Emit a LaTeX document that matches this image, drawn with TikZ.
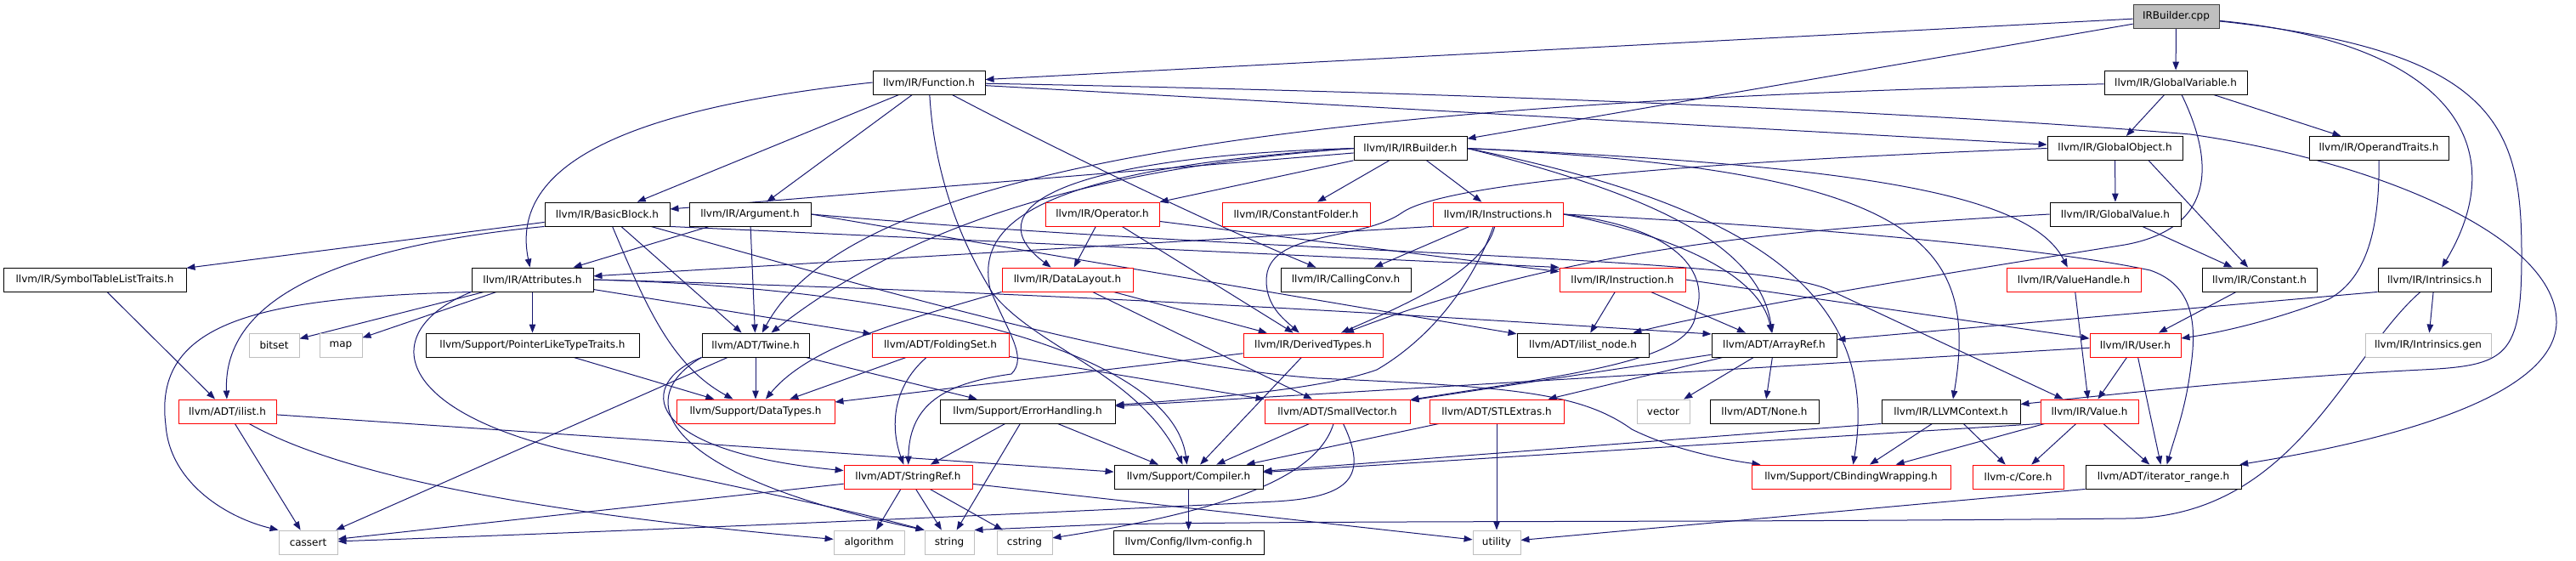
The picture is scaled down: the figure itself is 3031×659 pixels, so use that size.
\documentclass[tikz,border=0pt]{standalone}
\usepackage{fontspec}
\setmainfont{DejaVu Sans}
\usepackage{tikz}
\usetikzlibrary{arrows.meta,backgrounds}
\definecolor{edgeblue}{RGB}{25,25,112}
\definecolor{sysgray}{RGB}{191,191,191}
\definecolor{rootframe}{RGB}{64,64,64}
\definecolor{truncred}{RGB}{255,0,0}

\begin{document}
\begin{tikzpicture}[x=1pt,y=-1pt]
  \tikzstyle{hdr}=[rectangle,draw=black,line width=0.9pt,fill=white,minimum height=28pt,inner xsep=2pt,inner ysep=0pt,font=\fontsize{12}{14}\selectfont]
  \tikzstyle{trunc}=[hdr,draw=truncred]
  \tikzstyle{sys}=[hdr,draw=sysgray]
  \tikzstyle{root}=[hdr,draw=rootframe,fill=sysgray]
  \tikzstyle{dep}=[draw=edgeblue,line width=1pt,-{Triangle[length=10pt,width=7.5pt]}]
  \useasboundingbox (0,0) rectangle (3031,659);
  % row 0
  \node[root,minimum width=101pt] (cpp) at (2560.5,19.5) {IRBuilder.cpp};
  % row 1
  \node[hdr,minimum width=132pt] (func) at (1093,97) {llvm/IR/Function.h};
  \node[hdr,minimum width=168pt] (gvar) at (2560,97) {llvm/IR/GlobalVariable.h};
  % row 2
  \node[hdr,minimum width=133pt] (irb) at (1659.5,174.5) {llvm/IR/IRBuilder.h};
  \node[hdr,minimum width=159pt] (gobj) at (2488.5,174.5) {llvm/IR/GlobalObject.h};
  \node[hdr,minimum width=164pt] (optr) at (2799,174.5) {llvm/IR/OperandTraits.h};
  % row 3
  \node[hdr,minimum width=147pt] (bb) at (714.5,252) {llvm/IR/BasicBlock.h};
  \node[hdr,minimum width=143pt] (arg) at (882.5,252) {llvm/IR/Argument.h};
  \node[trunc,minimum width=134pt] (oper) at (1297,252) {llvm/IR/Operator.h};
  \node[trunc,minimum width=174pt] (cfold) at (1525,252) {llvm/IR/ConstantFolder.h};
  \node[trunc,minimum width=153pt] (insts) at (1762.5,252) {llvm/IR/Instructions.h};
  \node[hdr,minimum width=154pt] (gval) at (2489,252) {llvm/IR/GlobalValue.h};
  % row 4
  \node[hdr,minimum width=215pt] (stlt) at (111.5,329) {llvm/IR/SymbolTableListTraits.h};
  \node[hdr,minimum width=143pt] (attr) at (626.5,329) {llvm/IR/Attributes.h};
  \node[trunc,minimum width=154pt] (dl) at (1256,329) {llvm/IR/DataLayout.h};
  \node[hdr,minimum width=153pt] (cc) at (1583.5,329) {llvm/IR/CallingConv.h};
  \node[trunc,minimum width=148pt] (inst) at (1909,329) {llvm/IR/Instruction.h};
  \node[trunc,minimum width=158pt] (vh) at (2440,329) {llvm/IR/ValueHandle.h};
  \node[hdr,minimum width=135pt] (const) at (2658.5,329) {llvm/IR/Constant.h};
  \node[hdr,minimum width=133pt] (intr) at (2864.5,329) {llvm/IR/Intrinsics.h};
  % row 5
  \node[sys,minimum width=59pt] (bitset) at (322.5,406) {bitset};
  \node[sys,minimum width=50pt] (map) at (401,406) {map};
  \node[hdr,minimum width=251pt] (pltt) at (626.5,406) {llvm/Support/PointerLikeTypeTraits.h};
  \node[hdr,minimum width=126pt] (twine) at (889,406) {llvm/ADT/Twine.h};
  \node[trunc,minimum width=161pt] (fset) at (1106.5,406) {llvm/ADT/FoldingSet.h};
  \node[trunc,minimum width=164pt] (dtypes) at (1545,406) {llvm/IR/DerivedTypes.h};
  \node[hdr,minimum width=155pt] (inode) at (1862.5,406) {llvm/ADT/ilist\_node.h};
  \node[hdr,minimum width=147pt] (aref) at (2087.5,406) {llvm/ADT/ArrayRef.h};
  \node[trunc,minimum width=107pt] (user) at (2512.5,406) {llvm/IR/User.h};
  \node[sys,minimum width=148pt] (igen) at (2857,406) {llvm/IR/Intrinsics.gen};
  % row 6
  \node[trunc,minimum width=115pt] (ilist) at (267.5,484) {llvm/ADT/ilist.h};
  \node[trunc,minimum width=186pt] (dtyp) at (889,484) {llvm/Support/DataTypes.h};
  \node[hdr,minimum width=206pt] (err) at (1209,484) {llvm/Support/ErrorHandling.h};
  \node[trunc,minimum width=171pt] (svec) at (1573.5,484) {llvm/ADT/SmallVector.h};
  \node[trunc,minimum width=158pt] (stlx) at (1761,484) {llvm/ADT/STLExtras.h};
  \node[sys,minimum width=62pt] (vector) at (1957,484) {vector};
  \node[hdr,minimum width=128pt] (none) at (2076,484) {llvm/ADT/None.h};
  \node[hdr,minimum width=163pt] (ctx) at (2295.5,484) {llvm/IR/LLVMContext.h};
  \node[trunc,minimum width=115pt] (value) at (2458.5,484) {llvm/IR/Value.h};
  % row 7
  \node[trunc,minimum width=151pt] (sref) at (1068.5,561) {llvm/ADT/StringRef.h};
  \node[hdr,minimum width=175pt] (comp) at (1398.5,561) {llvm/Support/Compiler.h};
  \node[trunc,minimum width=234pt] (cbw) at (2178,561) {llvm/Support/CBindingWrapping.h};
  \node[trunc,minimum width=107pt] (core) at (2374.5,561) {llvm-c/Core.h};
  \node[hdr,minimum width=183pt] (irange) at (2545.5,561) {llvm/ADT/iterator\_range.h};
  % row 8
  \node[sys,minimum width=69pt] (cassert) at (362.5,638) {cassert};
  \node[sys,minimum width=83pt] (algo) at (1022.5,638) {algorithm};
  \node[sys,minimum width=58pt] (string) at (1117,638) {string};
  \node[sys,minimum width=65pt] (cstring) at (1205.5,638) {cstring};
  \node[hdr,minimum width=177pt] (config) at (1398.5,638) {llvm/Config/llvm-config.h};
  \node[sys,minimum width=56pt] (utility) at (1761,638) {utility};

  \begin{scope}[on background layer]
  % IRBuilder.cpp
  \draw[dep] (cpp) -- (func);
  \draw[dep] (cpp) -- (irb);
  \draw[dep] (cpp) -- (gvar);
  \draw[dep] (cpp) .. controls (2880,50) and (2960,170) .. (intr);
  \draw[dep] (cpp) .. controls (2940,60) and (2967,150) .. (2967,300) .. controls (2967,420) and (2950,430) .. (2850,435) .. controls (2650,445) and (2450,468) .. (ctx);
  % Function.h
  \draw[dep] (func) -- (bb);
  \draw[dep] (func) -- (arg);
  \draw[dep] (func.west) .. controls (720,130) and (600,200) .. (attr);
  \draw[dep] (func) .. controls (1100,220) and (1140,300) .. (1168,345) .. controls (1220,410) and (1340,440) .. (comp);
  \draw[dep] (func) .. controls (1250,180) and (1440,270) .. (cc);
  \draw[dep] (func) -- (gobj);
  \draw[dep] (func) .. controls (1800,110) and (2300,135) .. (2577,158) .. controls (2800,190) and (3010,280) .. (3008,380) .. controls (3005,470) and (2800,520) .. (irange);
  % GlobalVariable.h
  \draw[dep] (gvar) -- (gobj);
  \draw[dep] (gvar) -- (optr);
  \draw[dep] (gvar) .. controls (2610,200) and (2600,270) .. (2500,288) .. controls (2300,320) and (2050,360) .. (inode);
  \draw[dep] (gvar) .. controls (1500,120) and (1000,200) .. (twine);
  % IRBuilder.h
  \draw[dep] (irb) -- (cfold);
  \draw[dep] (irb) -- (insts);
  \draw[dep] (irb) -- (oper);
  \draw[dep] (irb) -- (bb);
  \draw[dep] (irb.west) .. controls (1230,185) and (1150,250) .. (dl);
  \draw[dep] (irb.west) .. controls (1250,200) and (1050,280) .. (twine);
  \draw[dep] (irb.west) .. controls (1200,200) and (1150,270) .. (1165,340) .. controls (1185,390) and (1210,420) .. (1190,440) .. controls (1120,450) and (1070,470) .. (sref);
  \draw[dep] (irb.east) .. controls (1950,230) and (2070,290) .. (aref);
  \draw[dep] (irb.east) .. controls (2250,200) and (2330,280) .. (ctx);
  \draw[dep] (irb.east) .. controls (2200,195) and (2390,230) .. (vh);
  \draw[dep] (irb.east) .. controls (2050,240) and (2215,340) .. (cbw);
  % GlobalObject.h
  \draw[dep] (gobj) -- (gval);
  \draw[dep] (gobj.-20) -- (const);
  \draw[dep] (gobj.west) .. controls (2000,190) and (1700,215) .. (1650,250) .. controls (1600,285) and (1490,270) .. (1490,330) .. controls (1490,360) and (1510,375) .. (dtypes);
  % OperandTraits.h
  \draw[dep] (optr) .. controls (2800,280) and (2780,330) .. (2740,352) .. controls (2680,375) and (2620,390) .. (user);
  % BasicBlock.h
  \draw[dep] (bb) -- (stlt);
  \draw[dep] (bb.south west) .. controls (400,290) and (262,350) .. (ilist);
  \draw[dep] (bb) .. controls (760,360) and (790,430) .. (dtyp);
  \draw[dep] (bb) -- (twine);
  \draw[dep] (bb.south east) -- (inst.north west);
  \draw[dep] (bb) .. controls (1100,360) and (1350,430) .. (1550,445) .. controls (1780,455) and (1860,462) .. (1920,505) .. controls (1980,535) and (2060,545) .. (cbw);
  % Argument.h
  \draw[dep] (arg) -- (attr);
  \draw[dep] (arg) -- (twine);
  \draw[dep] (arg.east) -- (inode);
  \draw[dep] (arg.east) .. controls (1500,300) and (2050,300) .. (2150,340) -- (value);
  % Operator.h
  \draw[dep] (oper) -- (dl);
  \draw[dep] (oper) -- (dtypes);
  \draw[dep] (oper) -- (inst);
  % Instructions.h
  \draw[dep] (insts.south west) -- (attr);
  \draw[dep] (insts) -- (cc);
  \draw[dep] (insts) .. controls (1745,320) and (1650,360) .. (dtypes);
  \draw[dep] (insts) .. controls (1730,340) and (1680,400) .. (1620,435) .. controls (1550,460) and (1400,470) .. (err);
  \draw[dep] (insts.east) .. controls (2100,265) and (2400,290) .. (2530,318) .. controls (2580,335) and (2585,380) .. (2578,430) .. controls (2572,480) and (2560,510) .. (irange);
  \draw[dep] (insts.east) .. controls (1990,270) and (2010,330) .. (1995,370) .. controls (1990,425) and (1850,440) .. (svec);
  \draw[dep] (insts.east) .. controls (1960,275) and (2070,320) .. (aref);
  % GlobalValue.h
  \draw[dep] (gval) -- (const);
  \draw[dep] (gval.west) .. controls (2100,270) and (1850,290) .. (dtypes);
  % SymbolTableListTraits.h
  \draw[dep] (stlt) -- (ilist);
  % Attributes.h
  \draw[dep] (attr) -- (bitset);
  \draw[dep] (attr) -- (map);
  \draw[dep] (attr) -- (pltt);
  \draw[dep] (attr) -- (fset);
  \draw[dep] (attr.east) .. controls (1300,345) and (1800,380) .. (aref.170);
  \draw[dep] (attr.south west) .. controls (300,350) and (180,380) .. (195,500) .. controls (200,570) and (270,610) .. (cassert.north west);
  \draw[dep] (attr.south west) .. controls (440,390) and (460,490) .. (700,537) .. controls (900,580) and (1000,600) .. (string.north west);
  \draw[dep] (attr.east) .. controls (1100,340) and (1380,420) .. (comp);
  % DataLayout.h
  \draw[dep] (dl) -- (dtypes);
  \draw[dep] (dl) -- (svec);
  \draw[dep] (dl.south west) .. controls (1050,380) and (950,410) .. (dtyp);
  % Instruction.h
  \draw[dep] (inst) -- (inode);
  \draw[dep] (inst.east) -- (user);
  \draw[dep] (inst) -- (aref);
  % ValueHandle.h, Constant.h, Intrinsics.h
  \draw[dep] (vh) -- (value);
  \draw[dep] (const) -- (user);
  \draw[dep] (intr) -- (igen);
  \draw[dep] (intr.south west) -- (aref);
  \draw[dep] (intr) .. controls (2760,420) and (2700,610) .. (2500,610) .. controls (2000,615) and (1600,612) .. (1300,617) -- (string.north east);
  % PointerLikeTypeTraits.h, Twine.h, FoldingSet.h, DerivedTypes.h
  \draw[dep] (pltt) -- (dtyp);
  \draw[dep] (twine) -- (dtyp);
  \draw[dep] (twine.south west) .. controls (750,450) and (750,530) .. (sref);
  \draw[dep] (twine.south west) .. controls (740,470) and (780,560) .. (string.north west);
  \draw[dep] (twine) -- (cassert);
  \draw[dep] (twine) -- (err);
  \draw[dep] (fset) -- (dtyp);
  \draw[dep] (fset) .. controls (1045,460) and (1050,510) .. (sref);
  \draw[dep] (fset) -- (svec);
  \draw[dep] (dtypes) -- (comp);
  \draw[dep] (dtypes) -- (dtyp);
  % ArrayRef.h, User.h
  \draw[dep] (aref) -- (svec);
  \draw[dep] (aref) -- (stlx);
  \draw[dep] (aref) -- (none);
  \draw[dep] (aref) -- (vector);
  \draw[dep] (user) -- (value);
  \draw[dep] (user) -- (irange);
  \draw[dep] (user) -- (err);
  % row 6 sources
  \draw[dep] (ilist) -- (comp);
  \draw[dep] (ilist) -- (cassert);
  \draw[dep] (ilist) .. controls (420,570) and (700,610) .. (algo);
  \draw[dep] (err) -- (sref);
  \draw[dep] (err) -- (comp);
  \draw[dep] (err) -- (string);
  \draw[dep] (svec) -- (comp);
  \draw[dep] (svec) .. controls (1610,560) and (1590,585) .. (1500,590) .. controls (1100,610) and (600,630) .. (cassert);
  \draw[dep] (svec) .. controls (1550,560) and (1450,600) .. (cstring);
  \draw[dep] (stlx) -- (comp);
  \draw[dep] (stlx) -- (utility);
  \draw[dep] (ctx) -- (cbw);
  \draw[dep] (ctx.south west) -- (comp);
  \draw[dep] (ctx) -- (core);
  \draw[dep] (value) -- (core);
  \draw[dep] (value) -- (irange);
  \draw[dep] (value) -- (cbw);
  \draw[dep] (value.south west) -- (comp);
  % row 7 sources
  \draw[dep] (sref) -- (algo);
  \draw[dep] (sref) -- (string);
  \draw[dep] (sref) -- (cstring);
  \draw[dep] (sref) -- (utility);
  \draw[dep] (sref) -- (cassert);
  \draw[dep] (comp) -- (config);
  \draw[dep] (irange.south west) -- (utility);
  \end{scope}
\end{tikzpicture}
\end{document}
